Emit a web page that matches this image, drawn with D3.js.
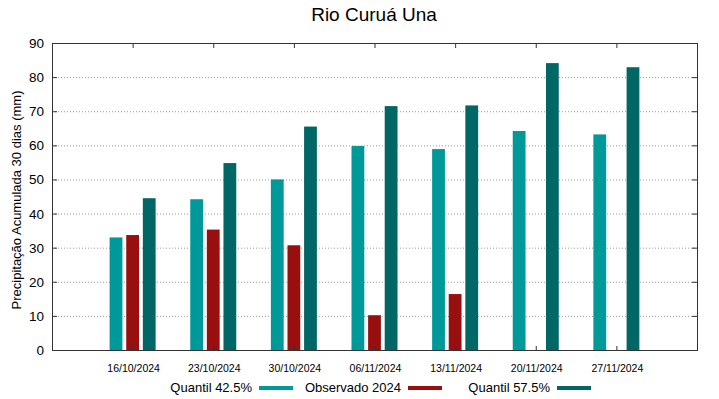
<!DOCTYPE html>
<html>
<head>
<meta charset="utf-8">
<script src="https://cdn.jsdelivr.net/npm/d3@7"></script>
<style>
  body { margin: 0; background: #fff; }
  text { font-family: "Liberation Sans", Arial, sans-serif; fill: #000; }
</style>
</head>
<body>
<svg id="chart" width="719" height="399"></svg>
<script>
// chart data
var dates = ["16/10/2024", "23/10/2024", "30/10/2024", "06/11/2024", "13/11/2024", "20/11/2024", "27/11/2024"];
var q425 = [33.0, 44.2, 50.0, 59.8, 58.9, 64.2, 63.2];
var obs2024 = [33.7, 35.3, 30.7, 10.2, 16.4, null, null];
var q575 = [44.5, 54.8, 65.5, 71.5, 71.7, 84.1, 82.9];
var seriesNames = ["Quantil 42.5%", "Observado 2024", "Quantil 57.5%"];
var seriesColors = ["#009999", "#990f0f", "#006666"];
var yTicks = [0, 10, 20, 30, 40, 50, 60, 70, 80, 90];

var svg = d3.select("#chart");
var plotL = 52, plotR = 697, plotT = 43, plotB = 350;

var x = d3.scaleLinear().domain([-1, dates.length]).range([plotL, plotR]);
var y = d3.scaleLinear().domain([0, 90]).range([plotB, plotT]);
var inner = d3.scaleBand().domain([0, 1, 2]).range([-23, 23]).paddingInner(0.23);

// dotted grid
svg.append("g").selectAll("line")
  .data(yTicks.slice(1, -1))
  .join("line")
    .attr("x1", plotL).attr("x2", plotR)
    .attr("y1", function(d) { return y(d) + 0.5; })
    .attr("y2", function(d) { return y(d) + 0.5; })
    .style("stroke", "#999")
    .style("stroke-width", 1)
    .style("stroke-dasharray", "1,2");

// bars
var allSeries = [q425, obs2024, q575];
allSeries.forEach(function(vals, s) {
  svg.append("g").selectAll("rect")
    .data(vals.map(function(v, i) { return {i: i, v: v}; }).filter(function(d) { return d.v != null; }))
    .join("rect")
      .attr("x", function(d) { return x(d.i) + inner(s); })
      .attr("width", inner.bandwidth())
      .attr("y", function(d) { return y(d.v); })
      .attr("height", function(d) { return y(0) - y(d.v); })
      .style("fill", seriesColors[s]);
});

// frame + ticks (inward, gnuplot style)
var idx = d3.range(dates.length);
svg.append("g").attr("transform", "translate(0," + plotB + ")")
  .call(d3.axisTop(x).tickValues(idx).tickSize(4).tickFormat(""))
  .call(function(g) { g.select(".domain").remove(); });
svg.append("g").attr("transform", "translate(0," + plotT + ")")
  .call(d3.axisBottom(x).tickValues(idx).tickSize(5).tickFormat(""))
  .call(function(g) { g.select(".domain").remove(); });
svg.append("g").attr("transform", "translate(" + plotL + ",0)")
  .call(d3.axisRight(y).tickValues(yTicks).tickSize(5).tickFormat(""))
  .call(function(g) { g.select(".domain").remove(); });
svg.append("g").attr("transform", "translate(" + plotR + ",0)")
  .call(d3.axisLeft(y).tickValues(yTicks).tickSize(5).tickFormat(""))
  .call(function(g) { g.select(".domain").remove(); });
svg.selectAll(".tick line").style("stroke", "#333");

svg.append("rect")
  .attr("x", plotL + 0.5).attr("y", plotT + 0.5)
  .attr("width", plotR - plotL).attr("height", plotB - plotT)
  .style("fill", "none").style("stroke", "#333").style("stroke-width", 1);

// y tick labels
svg.append("g").selectAll("text")
  .data(yTicks)
  .join("text")
    .attr("x", plotL - 8)
    .attr("y", function(d) { return y(d) + 5; })
    .attr("text-anchor", "end")
    .style("font-size", "13.5px")
    .text(function(d) { return d; });

// x tick labels
svg.append("g").selectAll("text")
  .data(dates)
  .join("text")
    .attr("x", function(d, i) { return x(i) + 1; })
    .attr("y", 371.5)
    .attr("text-anchor", "middle")
    .style("font-size", "10.5px")
    .text(function(d) { return d; });

// title
svg.append("text")
  .attr("x", 374).attr("y", 21)
  .attr("text-anchor", "middle")
  .style("font-size", "19px")
  .text("Rio Curuá Una");

// y label
svg.append("text")
  .attr("transform", "translate(21,200) rotate(-90)")
  .attr("text-anchor", "middle")
  .style("font-size", "13px")
  .text("Precipitação Acumulada 30 dias (mm)");

// legend
var legendTextEnd = [252, 401, 550];
var legendSample = [259, 408, 557];
seriesNames.forEach(function(name, s) {
  svg.append("text")
    .attr("x", legendTextEnd[s]).attr("y", 392)
    .attr("text-anchor", "end")
    .style("font-size", "13px")
    .text(name);
  svg.append("rect")
    .attr("x", legendSample[s]).attr("y", 386)
    .attr("width", 34).attr("height", 4)
    .style("fill", seriesColors[s]);
});
</script>
</body>
</html>
